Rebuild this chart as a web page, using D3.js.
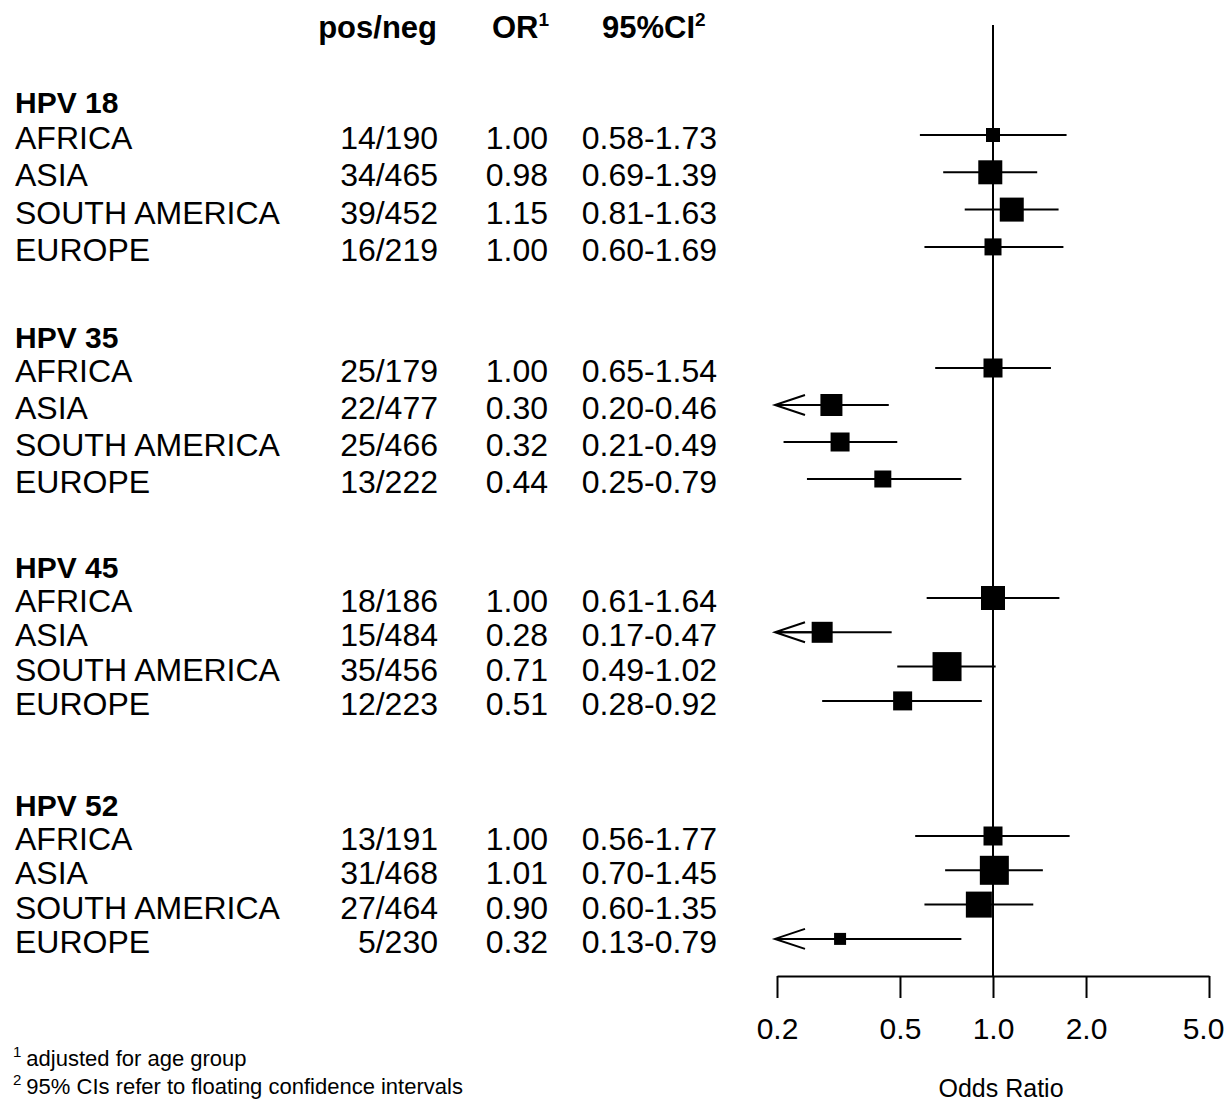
<!DOCTYPE html>
<html><head><meta charset="utf-8">
<script src="https://cdn.jsdelivr.net/npm/d3@7"></script>
<style>
html,body{margin:0;padding:0;background:#fff;}
svg{display:block;font-family:"Liberation Sans",Arial,sans-serif;}
</style></head>
<body><svg id="c" width="1229" height="1105"></svg>
<script>
const groups = ["HPV 18", "HPV 35", "HPV 45", "HPV 52"];
const regions = ["AFRICA", "ASIA", "SOUTH AMERICA", "EUROPE"];
const posNeg = ["14/190","34/465","39/452","16/219",
                "25/179","22/477","25/466","13/222",
                "18/186","15/484","35/456","12/223",
                "13/191","31/468","27/464","5/230"];
const oddsRatio = [1.00,0.98,1.15,1.00, 1.00,0.30,0.32,0.44, 1.00,0.28,0.71,0.51, 1.00,1.01,0.90,0.32];
const ciLow  = [0.58,0.69,0.81,0.60, 0.65,0.20,0.21,0.25, 0.61,0.17,0.49,0.28, 0.56,0.70,0.60,0.13];
const ciHigh = [1.73,1.39,1.63,1.69, 1.54,0.46,0.49,0.79, 1.64,0.47,1.02,0.92, 1.77,1.45,1.35,0.79];
const weights = [14,24,24,17, 19,22,19,17, 24,21,29,19, 19,29,26,12];
const axisTicks = [0.2, 0.5, 1.0, 2.0, 5.0];
const axisTitle = "Odds Ratio";
const footnotes = [["1","adjusted for age group"],["2","95% CIs refer to floating confidence intervals"]];

// layout
const groupStart = [135, 368, 598, 836];
const groupStep = [37.3, 37, 34.3, 34.3];
const headerOffset = [22, 20, 20, 20];
const svg = d3.select("#c");
const x = d3.scaleLog().domain([0.2, 5]).range([777, 1209]);
const size = d3.scaleLinear().domain([0, 30]).range([0, 30]);
const axisY = 976;

const rows = posNeg.map((pn, i) => {
  const g = Math.floor(i / 4), r = i % 4;
  return {g, r, region: regions[r], pn, or: oddsRatio[i], lo: ciLow[i], hi: ciHigh[i], w: weights[i],
          y: groupStart[g] + r * groupStep[g]};
});

const FS = 32;
// header
const hdr = svg.append("g").attr("font-weight", "bold").attr("font-size", 31);
hdr.append("text").attr("x", 437).attr("y", 38).attr("text-anchor", "end").text("pos/neg");
const t1 = hdr.append("text").attr("x", 492).attr("y", 38);
t1.append("tspan").text("OR");
t1.append("tspan").attr("font-size", 19).attr("dy", -12).text("1");
const t2 = hdr.append("text").attr("x", 602).attr("y", 38);
t2.append("tspan").text("95%CI");
t2.append("tspan").attr("font-size", 19).attr("dy", -12).text("2");

// group headers
svg.append("g").selectAll("text").data(groups).join("text")
  .attr("x", 15).attr("y", (d, i) => groupStart[i] - headerOffset[i])
  .attr("font-weight", "bold").attr("font-size", 30).text(d => d);

// rows text
const rt = svg.append("g").attr("font-size", FS);
rt.selectAll(".lab").data(rows).join("text").attr("class","lab")
  .attr("x", 15).attr("y", d => d.y + 14).text(d => d.region);
rt.selectAll(".pn").data(rows).join("text").attr("class","pn")
  .attr("x", 438).attr("y", d => d.y + 14).attr("text-anchor", "end").text(d => d.pn);
rt.selectAll(".or").data(rows).join("text").attr("class","or")
  .attr("x", 548).attr("y", d => d.y + 14).attr("text-anchor", "end").text(d => d3.format(".2f")(d.or));
rt.selectAll(".ci").data(rows).join("text").attr("class","ci")
  .attr("x", 717).attr("y", d => d.y + 14).attr("text-anchor", "end")
  .text(d => d3.format(".2f")(d.lo) + "-" + d3.format(".2f")(d.hi));

// reference line
svg.append("line").attr("x1", x(1)).attr("x2", x(1)).attr("y1", 25).attr("y2", axisY)
  .attr("stroke", "#000").attr("stroke-width", 2);

// CI lines
const plot = svg.append("g");
plot.selectAll(".cil").data(rows).join("line").attr("class","cil")
  .attr("x1", d => x(Math.max(d.lo, 0.2))).attr("x2", d => x(d.hi))
  .attr("y1", d => d.y).attr("y2", d => d.y)
  .attr("stroke", "#000").attr("stroke-width", 2);
// arrows for truncated intervals
plot.selectAll(".arr").data(rows.filter(d => d.lo <= 0.2)).join("path").attr("class","arr")
  .attr("d", d => { const tx = x(0.2) - 2; return `M${tx+30},${d.y-10}L${tx},${d.y}L${tx+30},${d.y+10}M${tx},${d.y}L${tx+40},${d.y}`; })
  .attr("fill", "none").attr("stroke", "#000").attr("stroke-width", 2);
// boxes
plot.selectAll(".box").data(rows).join("rect").attr("class","box")
  .attr("x", d => x(d.or) - size(d.w) / 2).attr("y", d => d.y - size(d.w) / 2)
  .attr("width", d => size(d.w)).attr("height", d => size(d.w)).attr("fill", "#000");

// axis
const ax = svg.append("g").attr("transform", `translate(0,${axisY})`)
  .call(d3.axisBottom(x).tickValues(axisTicks).tickFormat(d3.format(".1f")).tickSize(22).tickSizeOuter(0).tickPadding(20));
ax.selectAll("path,line").attr("stroke", "#000").attr("stroke-width", 2);
ax.selectAll("text").attr("font-size", 30).attr("font-family", "Liberation Sans, Arial, sans-serif").attr("fill", "#000");
ax.selectAll(".tick").filter(d => d === axisTicks[axisTicks.length - 1]).select("text").attr("dx", -6);
svg.append("text").attr("x", 1001).attr("y", 1097).attr("text-anchor", "middle").attr("font-size", 25).text(axisTitle);

// footnotes
const fn = svg.append("g").attr("font-size", 22);
footnotes.forEach((f, i) => {
  const t = fn.append("text").attr("x", 13).attr("y", 1066 + i * 28);
  t.append("tspan").attr("font-size", 15).attr("dy", -9).text(f[0]);
  t.append("tspan").attr("dy", 9).attr("dx", 5).text(f[1]);
});
</script></body></html>
